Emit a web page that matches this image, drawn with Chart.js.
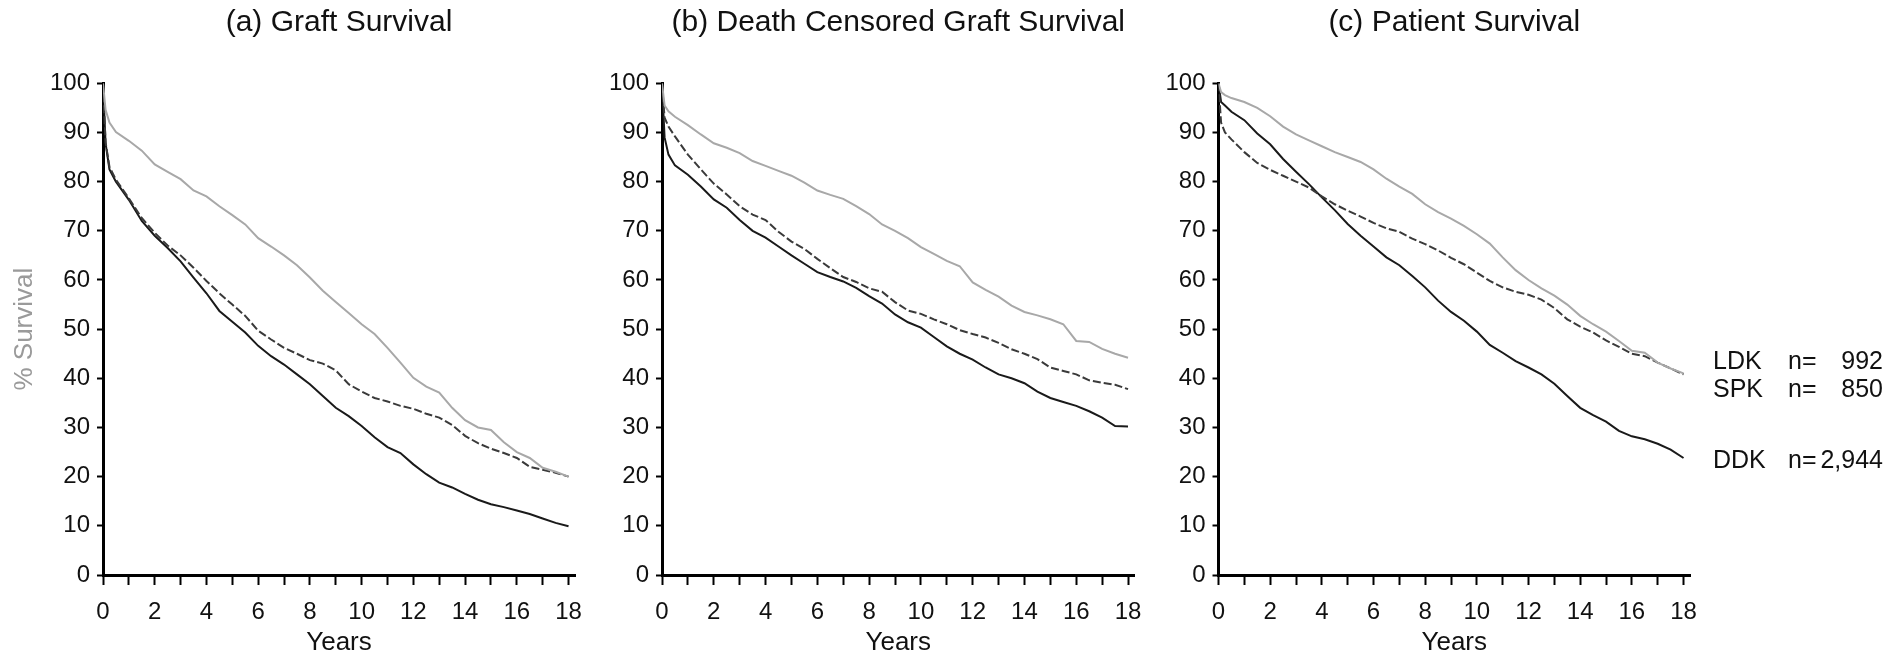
<!DOCTYPE html>
<html lang="en">
<head>
  <meta charset="UTF-8">
  <title>Graft and Patient Survival</title>
  <script src="https://cdn.jsdelivr.net/npm/chart.js"></script>
  <style>
    * {
      margin: 0;
      padding: 0;
      box-sizing: border-box;
    }

    body {
      width: 1903px;
      height: 656px;
      overflow: hidden;
      background: #fff;
      position: relative;
      font-family: 'Liberation Sans', Arial, sans-serif;
    }

    .panel {
      position: absolute;
      top: 0;
      height: 656px;
    }

    #panelA { left: 0; width: 600px; }
    #panelB { left: 600px; width: 560px; }
    #panelC { left: 1160px; width: 560px; }

    /* legend beside panel (c) */
    .legend-row {
      position: absolute;
      left: 1713px;
      width: 170px;
      font-size: 25px;
      line-height: 25px;
      color: #111;
    }

    .legend-row .grp { position: absolute; left: 0; }
    .legend-row .n { position: absolute; left: 75px; }
    .legend-row .count { position: absolute; right: 0; }
  </style>
</head>
<body>
  <div class="panel" id="panelA"><canvas id="chartA"></canvas></div>
  <div class="panel" id="panelB"><canvas id="chartB"></canvas></div>
  <div class="panel" id="panelC"><canvas id="chartC"></canvas></div>

  <div class="legend-row" style="top: 348px;"><span class="grp">LDK</span><span class="n">n=</span><span class="count">992</span></div>
  <div class="legend-row" style="top: 376px;"><span class="grp">SPK</span><span class="n">n=</span><span class="count">850</span></div>
  <div class="legend-row" style="top: 447px;"><span class="grp">DDK</span><span class="n">n=</span><span class="count">2,944</span></div>

  <script>
    // time points (years) shared by every curve
    const YEARS = [0, 0.1, 0.25, 0.5, 1, 1.5, 2, 2.5, 3, 3.5, 4, 4.5, 5, 5.5, 6, 6.5, 7, 7.5, 8, 8.5,
                   9, 9.5, 10, 10.5, 11, 11.5, 12, 12.5, 13, 13.5, 14, 14.5, 15, 15.5, 16, 16.5, 17, 17.5, 18];
    const X_TICKS = [0, 1, 2, 3, 4, 5, 6, 7, 8, 9, 10, 11, 12, 13, 14, 15, 16, 17, 18];

    // (a) Graft Survival
    const graftLDK = [100, 94.6, 92, 90.1, 88.3, 86.3, 83.5, 82, 80.5, 78.2, 77, 75, 73.2, 71.3, 68.5, 66.8, 65, 63, 60.5, 57.8,
                      55.5, 53.3, 51, 49, 46.2, 43.2, 40.1, 38.3, 37.1, 34, 31.5, 30, 29.5, 27, 25, 23.8, 21.8, 21, 20];
    const graftSPK = [100, 88, 83, 80.4, 76.6, 72.6, 69.6, 67, 65, 62.5, 59.8, 57.3, 55, 52.7, 49.7, 47.9, 46.2, 45, 43.7, 43,
                      41.6, 38.8, 37.3, 36, 35.3, 34.4, 33.8, 32.8, 32, 30.5, 28.3, 26.8, 25.7, 24.8, 23.8, 22, 21.4, 20.8, 20];
    const graftDDK = [100, 87.8, 82.5, 80, 76.3, 72, 69, 66.5, 63.8, 60.5, 57.3, 53.7, 51.5, 49.3, 46.6, 44.5, 42.8, 40.8, 38.8, 36.4,
                      34, 32.3, 30.3, 28, 26, 24.8, 22.5, 20.5, 18.8, 17.8, 16.5, 15.3, 14.4, 13.8, 13.1, 12.4, 11.5, 10.6, 9.9];

    // (b) Death Censored Graft Survival
    const censLDK = [100, 95.5, 94.3, 93.2, 91.5, 89.6, 87.8, 86.9, 85.8, 84.2, 83.2, 82.2, 81.2, 79.8, 78.2, 77.3, 76.5, 75, 73.4, 71.3,
                     70, 68.5, 66.7, 65.3, 63.9, 62.8, 59.5, 58, 56.6, 54.8, 53.5, 52.8, 52, 51, 47.6, 47.4, 46, 45, 44.2];
    const censSPK = [100, 93, 91.2, 89.2, 85.5, 82.5, 79.6, 77.4, 75, 73.3, 72.2, 69.8, 67.8, 66.3, 64.3, 62.4, 60.6, 59.6, 58.3, 57.6,
                     55.5, 53.8, 53.1, 52, 51, 49.8, 49, 48.3, 47.2, 45.9, 45, 43.9, 42.2, 41.5, 40.8, 39.6, 39.1, 38.7, 37.8];
    const censDDK = [100, 89, 85.5, 83.3, 81.4, 79, 76.4, 74.7, 72.2, 70, 68.6, 66.8, 65, 63.3, 61.6, 60.6, 59.7, 58.4, 56.7, 55.2,
                     53, 51.4, 50.3, 48.4, 46.5, 45, 43.8, 42.2, 40.8, 40, 39, 37.3, 36, 35.2, 34.4, 33.3, 32, 30.3, 30.2];

    // (c) Patient Survival
    const patLDK = [100, 98.2, 97.6, 97, 96.2, 95, 93.3, 91.2, 89.6, 88.4, 87.2, 86, 85, 84, 82.5, 80.6, 79, 77.5, 75.4, 73.8,
                    72.5, 71, 69.3, 67.4, 64.6, 62, 60, 58.3, 56.8, 55, 52.7, 51, 49.5, 47.6, 45.6, 45.2, 43.2, 42, 41];
    const patSPK = [100, 92, 90, 88.6, 86, 83.8, 82.4, 81.2, 80, 78.8, 77, 75.4, 74.1, 72.9, 71.6, 70.5, 69.8, 68.4, 67.3, 66,
                    64.5, 63.2, 61.5, 59.8, 58.5, 57.6, 57, 56, 54.3, 52, 50.5, 49.3, 47.7, 46.4, 45, 44.5, 43.2, 42, 40.8];
    const patDDK = [100, 96.2, 95.5, 94.2, 92.5, 89.8, 87.6, 84.6, 82, 79.5, 76.8, 74.2, 71.4, 69, 66.8, 64.6, 63, 60.8, 58.5, 55.8,
                    53.5, 51.7, 49.5, 46.8, 45.2, 43.5, 42.2, 40.8, 38.9, 36.4, 34, 32.5, 31.2, 29.3, 28.2, 27.6, 26.7, 25.5, 23.8];

    const FONT = "'Liberation Sans', Arial, sans-serif";

    function toPoints(values) {
      return YEARS.map((x, i) => ({ x: x, y: values[i] }));
    }

    function makeChart(canvasId, title, ldk, spk, ddk, yWidth, padRight, showYTitle) {
      const ctx = document.getElementById(canvasId).getContext('2d');
      return new Chart(ctx, {
        type: 'line',
        data: {
          datasets: [
            { label: 'LDK', data: toPoints(ldk), borderColor: '#a8a8a8', borderWidth: 2 },
            { label: 'SPK', data: toPoints(spk), borderColor: '#3a3a3a', borderWidth: 2, borderDash: [8, 3] },
            { label: 'DDK', data: toPoints(ddk), borderColor: '#1a1a1a', borderWidth: 2 }
          ]
        },
        options: {
          responsive: true,
          maintainAspectRatio: false,
          animation: false,
          layout: { padding: { left: 0, right: padRight, top: 0, bottom: 0 } },
          elements: {
            point: { radius: 0 },
            line: { tension: 0, fill: false }
          },
          plugins: {
            legend: { display: false },
            tooltip: { enabled: false },
            title: {
              display: true,
              text: title,
              fullSize: false,
              color: '#111',
              font: { family: FONT, size: 30, weight: 'normal', lineHeight: 1.2 },
              padding: { top: 4.5, bottom: 42.8 }
            }
          },
          scales: {
            x: {
              type: 'linear',
              min: 0,
              max: 18.25,
              afterBuildTicks: scale => {
                scale.ticks = X_TICKS.map(v => ({ value: v }));
              },
              afterFit: scale => { scale.height = 81; },
              border: { display: true, color: '#000', width: 3 },
              grid: {
                display: true,
                drawOnChartArea: false,
                drawTicks: true,
                tickLength: 10,
                tickWidth: 2,
                tickColor: '#000'
              },
              ticks: {
                autoSkip: false,
                maxRotation: 0,
                padding: 12.6,
                color: '#111',
                font: { family: FONT, size: 24 },
                callback: v => (v % 2 === 0 ? String(v) : '')
              },
              title: {
                display: true,
                text: 'Years',
                color: '#111',
                font: { family: FONT, size: 26, lineHeight: 1 },
                padding: { top: 0, bottom: 0 }
              }
            },
            y: {
              type: 'linear',
              min: 0,
              max: 100,
              afterFit: scale => { scale.width = yWidth; },
              border: { display: true, color: '#000', width: 3 },
              grid: {
                display: true,
                drawOnChartArea: false,
                drawTicks: true,
                tickLength: 6,
                tickWidth: 2,
                tickColor: '#000'
              },
              ticks: {
                stepSize: 5,
                padding: 7,
                color: '#111',
                font: { family: FONT, size: 24 },
                callback: v => (v % 10 === 0 ? String(v) : '')
              },
              title: {
                display: showYTitle,
                text: '% Survival',
                color: '#9a9a9a',
                font: { family: FONT, size: 26, lineHeight: 1 },
                padding: { top: 12, bottom: 0 }
              }
            }
          }
        }
      });
    }

    makeChart('chartA', '(a) Graft Survival', graftLDK, graftSPK, graftDDK, 103, 25, true);
    makeChart('chartB', '(b) Death Censored Graft Survival', censLDK, censSPK, censDDK, 62, 25.5, false);
    makeChart('chartC', '(c) Patient Survival', patLDK, patSPK, patDDK, 58.5, 30, false);
  </script>
</body>
</html>
